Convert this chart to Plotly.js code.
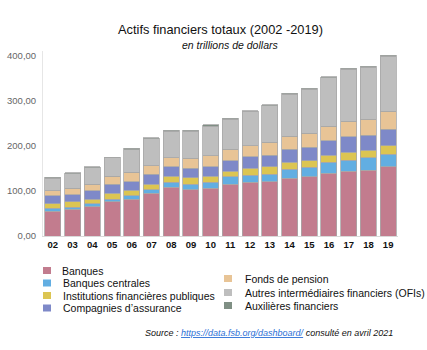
<!DOCTYPE html>
<html><head><meta charset="utf-8">
<script src="https://cdn.plot.ly/plotly-3.0.1.min.js"></script>
<style>html,body{margin:0;padding:0;background:#fff;}#chart{width:427px;height:350px;}</style>
</head><body><div id="chart"></div>
<script>
const years = ['02','03','04','05','06','07','08','09','10','11','12','13','14','15','16','17','18','19'];
const banques       = [55,59,65,76,81,95,108,103,106,115,119,120,128,131,139,143,146,154];
const banquesCentr  = [6,5,6,6,8,7,11,12,13,16,16,17,20,21,24,25,27,27];
const instPubliques = [11,12,10,13,12,13,13,14,13,12,15,16,15,15,16,18,17,19];
const assurance     = [17,15,19,20,19,22,21,21,22,24,26,26,29,30,32,34,33,37];
const pension       = [11,15,15,17,21,19,20,22,24,25,24,29,29,31,32,34,36,39];
const ofis          = [28,32,36,41,50,60,59,60,65,67,76,81,93,97,108,116,115,122];
const auxiliaires   = [2,2,2,2,3,2,2,2,4,2,2,2,2,2,2,2,2,3];

const seriesNames = ['Banques','Banques centrales','Institutions financières publiques',"Compagnies d’assurance",'Fonds de pension','Autres intermédiaires financiers (OFIs)','Auxilières financiers'];
const seriesValues = [banques, banquesCentr, instPubliques, assurance, pension, ofis, auxiliaires];
const colors = ['#c27c8e','#62aee2','#dcc552','#7e89c8','#e8c496','#bebebe','#7f8f84'];

const font = 'Liberation Sans, Arial, sans-serif';
const traces = seriesNames.map((n,i)=>({
  type:'bar', name:n, x:years, y:seriesValues[i],
  marker:{color:colors[i], line:{color:'#a8a8a8', width:0.8}},
  showlegend:false, hoverinfo:'skip'
}));

const legPos = [
  {x:43, y:270.5, tx:60},
  {x:43, y:283, tx:61},
  {x:43, y:295.5, tx:61},
  {x:43, y:308, tx:61},
  {x:224, y:278.5, tx:243},
  {x:224, y:292.5, tx:243},
  {x:224, y:305.5, tx:243}
];
const W=427, H=350;
const shapes=[], annotations=[];
seriesNames.forEach((n,i)=>{
  const p=legPos[i];
  shapes.push({type:'rect', xref:'paper', yref:'paper',
    x0:(p.x-43)/(W-43-29), x1:(p.x+8-43)/(W-43-29),
    y0:(236-(p.y+3.5))/(236-51), y1:(236-(p.y-3.5))/(236-51),
    fillcolor:colors[i], line:{width:0}});
  annotations.push({xref:'paper', yref:'paper', x:(p.tx-43)/(W-43-29), y:(236-p.y)/(236-51),
    xanchor:'left', yanchor:'middle', showarrow:false, text:n,
    font:{family:font, size:10.5, color:'#111'}});
});
annotations.push({xref:'paper', yref:'paper', x:(230-43)/(W-43-29), y:(236-45)/(236-51),
  xanchor:'center', yanchor:'middle', showarrow:false,
  text:'<i>en trillions de dollars</i>', font:{family:font, size:10.5, color:'#111'}});
annotations.push({xref:'paper', yref:'paper', x:(395-43)/(W-43-29), y:(236-333)/(236-51),
  xanchor:'right', yanchor:'middle', showarrow:false,
  text:'<i>Source : <span style="color:#2b6fd6;text-decoration:underline">https://data.fsb.org/dashboard/</span> consulté en avril 2021</i>',
  font:{family:font, size:9, color:'#111'}});

const layout = {
  width:W, height:H,
  margin:{l:43, r:29, t:51, b:114, pad:0},
  paper_bgcolor:'#fff', plot_bgcolor:'#fff',
  barmode:'stack', bargap:0.19,
  separators:',.',
  title:{text:'Actifs financiers totaux (2002 -2019)', x:0.5, xref:'paper', xanchor:'center',
    y:1-30/H, yref:'container', yanchor:'middle',
    font:{family:font, size:12.8, color:'#111'}},
  xaxis:{type:'category', tickfont:{family:font, size:9.5, color:'#111', weight:'bold'},
    showline:true, linecolor:'#d9d9d9', linewidth:1, ticks:'', showgrid:false, zeroline:false},
  yaxis:{range:[0,410], tickvals:[0,100,200,300,400], tickformat:'.2f',
    tickfont:{family:font, size:9.5, color:'#666'},
    showline:true, linecolor:'#e6e6e6', showgrid:false, zeroline:false, ticks:'', ticklabelstandoff:4},
  shapes:shapes, annotations:annotations
};
Plotly.newPlot('chart', traces, layout, {displayModeBar:false, staticPlot:true});
</script></body></html>
